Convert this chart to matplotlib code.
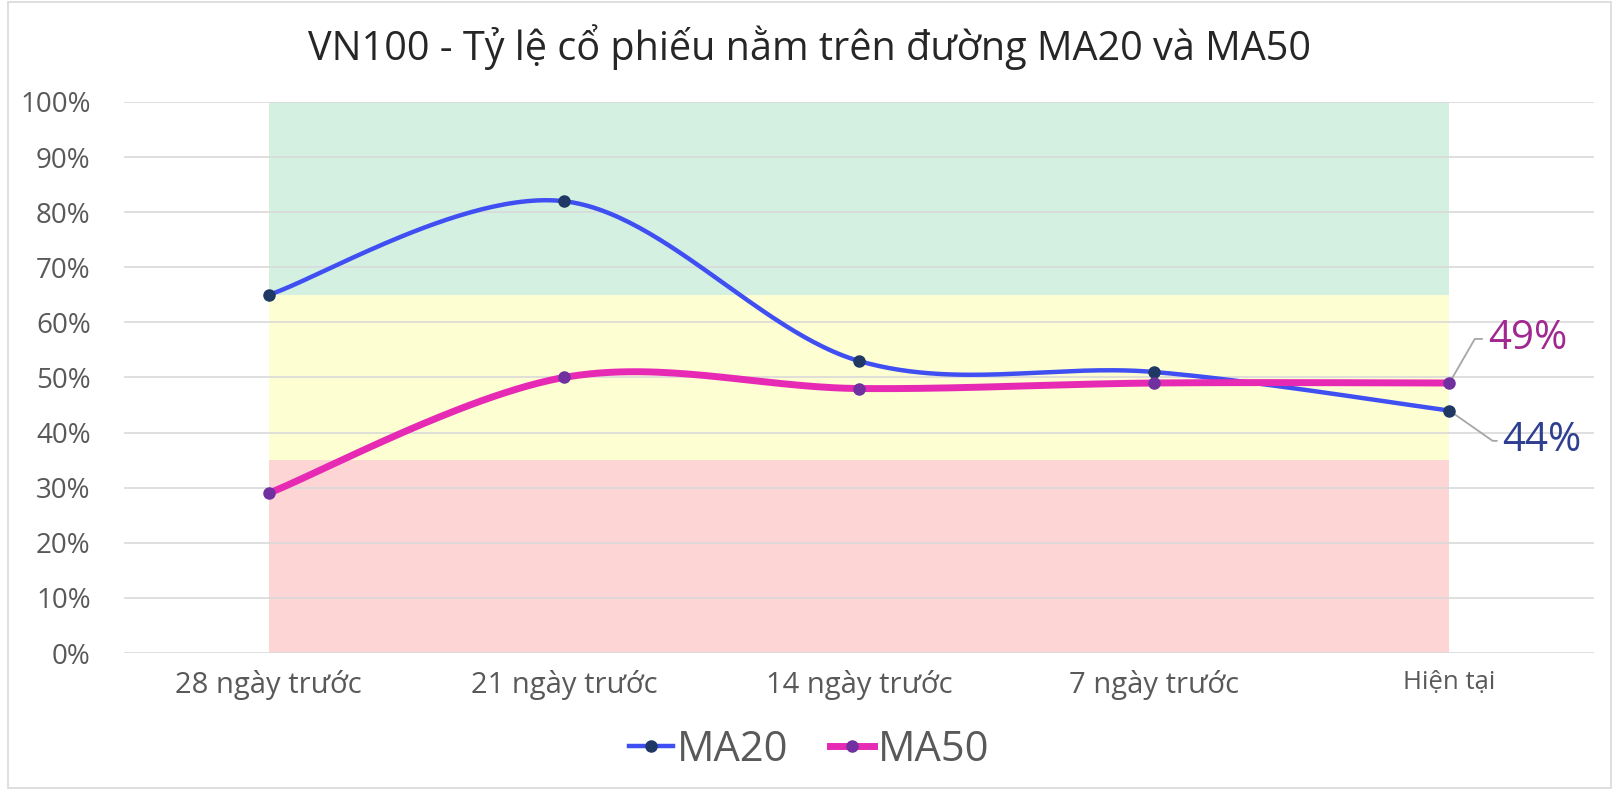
import numpy as np
import matplotlib
matplotlib.use("Agg")
import matplotlib.pyplot as plt
from matplotlib.patches import Rectangle
from matplotlib.lines import Line2D

categories = ["28 ngày trước", "21 ngày trước", "14 ngày trước", "7 ngày trước", "Hiện tại"]
ma20 = [65, 82, 53, 51, 44]
ma50 = [29, 50, 48, 49, 49]
# zone limits (%)
zone_red = (0, 35)
zone_yellow = (35, 65)
zone_green = (65, 100)

plt.rcParams['font.family'] = ['Open Sans', 'DejaVu Sans']


def smooth(xs, ys, n=60):
    # Catmull-Rom style bezier, similar to Excel "smoothed line"
    xs = np.asarray(xs, float)
    ys = np.asarray(ys, float)
    px, py = [], []
    for i in range(len(xs) - 1):
        x0, y0 = (xs[i - 1], ys[i - 1]) if i > 0 else (xs[i], ys[i])
        x1, y1 = xs[i], ys[i]
        x2, y2 = xs[i + 1], ys[i + 1]
        x3, y3 = (xs[i + 2], ys[i + 2]) if i + 2 < len(xs) else (x2, y2)
        c1x, c1y = x1 + (x2 - x0) / 6, y1 + (y2 - y0) / 6
        c2x, c2y = x2 - (x3 - x1) / 6, y2 - (y3 - y1) / 6
        t = np.linspace(0, 1, n)
        bx = (1-t)**3*x1 + 3*(1-t)**2*t*c1x + 3*(1-t)*t**2*c2x + t**3*x2
        by = (1-t)**3*y1 + 3*(1-t)**2*t*c1y + 3*(1-t)*t**2*c2y + t**3*y2
        px.extend(bx); py.extend(by)
    return np.array(px), np.array(py)


fig = plt.figure(figsize=(16.19, 7.90), dpi=100)
ax = fig.add_axes([124/1619, 1 - 653/790, (1594-124)/1619, (653-102)/790])

x = np.arange(len(categories))

for (lo, hi), col in [(zone_red, "#FDD5D5"), (zone_yellow, "#FEFED3"), (zone_green, "#D4F0E1")]:
    ax.add_patch(Rectangle((x[0], lo), x[-1] - x[0], hi - lo, facecolor=col, edgecolor='none', zorder=1))

for v in range(0, 101, 10):
    ax.axhline(v, color="#D9D9D9", lw=1.2, zorder=2)

sx, sy = smooth(x, ma20)
ax.plot(sx, sy, color="#3F4FF2", lw=3.2, zorder=3, solid_capstyle='round')
ax.plot(x, ma20, 'o', color="#1F3864", ms=8, zorder=4)

sx, sy = smooth(x, ma50)
ax.plot(sx, sy, color="#E62AB4", lw=5, zorder=3, solid_capstyle='round')
ax.plot(x, ma50, 'o', color="#7030A0", ms=8, zorder=4)

ax.set_xlim(-0.49, 4.49)
ax.set_ylim(0, 100)
ax.set_yticks(range(0, 101, 10))
ax.set_yticklabels([f"{v}%" for v in range(0, 101, 10)], fontsize=20, color="#595959")
ax.set_xticks(x)
ax.set_xticklabels(categories, fontsize=21, color="#595959")
ax.get_xticklabels()[-1].set_fontsize(18.5)
ax.tick_params(length=0, pad=12)
ax.tick_params(axis='y', pad=24)
for s in ax.spines.values():
    s.set_visible(False)

# data labels for the last point
ax.annotate(f"{ma50[-1]}%", xy=(x[-1], ma50[-1]), xytext=(x[-1] + 0.13, 57),
            fontsize=29, color="#A02890", va='center', ha='left',
            arrowprops=dict(arrowstyle='-', color="#A6A6A6", lw=1.3,
                            connectionstyle="angle,angleA=0,angleB=60,rad=0"))
ax.annotate(f"{ma20[-1]}%", xy=(x[-1], ma20[-1]), xytext=(x[-1] + 0.18, 38.5),
            fontsize=29, color="#2E3F8F", va='center', ha='left',
            arrowprops=dict(arrowstyle='-', color="#A6A6A6", lw=1.3,
                            connectionstyle="angle,angleA=0,angleB=-35,rad=0"))

fig.text(0.5, 1 - 47/790, "VN100 - Tỷ lệ cổ phiếu nằm trên đường MA20 và MA50",
         ha='center', va='center', fontsize=28.5, color="#262626")

handles = [Line2D([], [], color="#3F4FF2", lw=3.2, marker='o', mfc="#1F3864", mec="#1F3864", ms=8),
           Line2D([], [], color="#E62AB4", lw=5, marker='o', mfc="#7030A0", mec="#7030A0", ms=8)]
leg = fig.legend(handles, ["MA20", "MA50"], loc='center', bbox_to_anchor=(0.5, 1 - 750/790),
                 ncol=2, frameon=False, fontsize=30, handlelength=1.05, handletextpad=0.1,
                 columnspacing=1.0)
for t in leg.get_texts():
    t.set_color("#595959")

fig.add_artist(Rectangle((8/1619, 0.002), 1 - 16/1619, 0.996, transform=fig.transFigure,
                         fill=False, edgecolor="#D9D9D9", lw=1.2))

fig.savefig("out.png", dpi=100)
